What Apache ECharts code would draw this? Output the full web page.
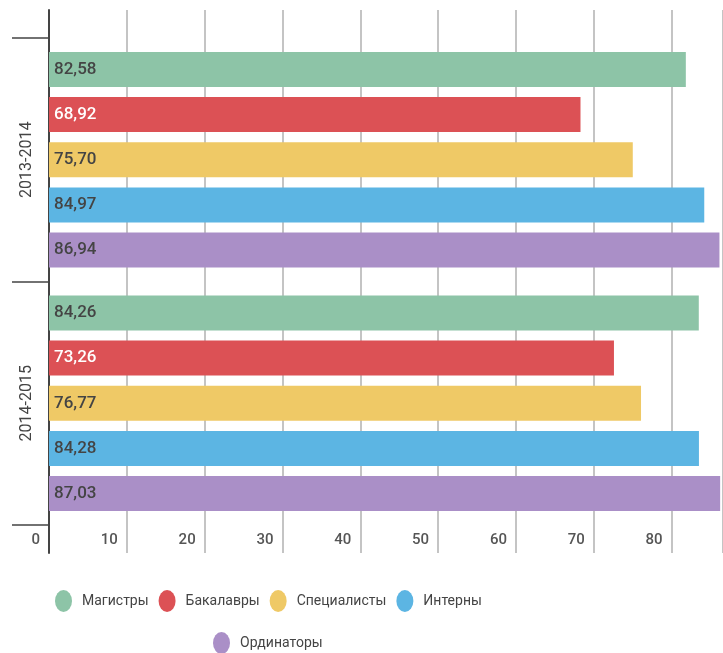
<!DOCTYPE html>
<html>
<head>
<meta charset="utf-8">
<script src="https://cdn.jsdelivr.net/npm/echarts@6/dist/echarts.min.js"></script>
<style>
  html, body { margin: 0; padding: 0; background: #fff; }
  #chart { width: 723px; height: 653px; }
</style>
</head>
<body>
<div id="chart"></div>
<script>
const years = ['2013-2014', '2014-2015'];
const seriesNames = ['Магистры', 'Бакалавры', 'Специалисты', 'Интерны', 'Ординаторы'];
const colors = ['#8dc4a7', '#dc5155', '#efc966', '#5cb5e3', '#aa8fc7'];
const labelColors = ['#444', '#fff', '#444', '#444', '#444'];

const magistry = [82.58, 84.26];
const bakalavry = [68.92, 73.26];
const specialisty = [75.70, 76.77];
const interny = [84.97, 84.28];
const ordinatory = [86.94, 87.03];
const values = [magistry, bakalavry, specialisty, interny, ordinatory];

const font = 'Roboto';
// the legend markers in the picture are slightly taller than wide
const ellipse = 'path://M8.5,0 A8.5,11 0 1,1 8.5,22 A8.5,11 0 1,1 8.5,0 Z';

const chart = echarts.init(document.getElementById('chart'));

const series = seriesNames.map((name, i) => ({
  name: name,
  type: 'bar',
  xAxisIndex: 1,
  yAxisIndex: 1,
  barWidth: 35,
  barGap: '29%',
  itemStyle: { color: colors[i] },
  label: {
    show: true,
    position: 'insideLeft',
    distance: 5,
    fontFamily: font,
    fontSize: 17,
    fontWeight: 500,
    color: labelColors[i],
    formatter: p => p.value.toFixed(2).replace('.', ',')
  },
  data: values[i]
}));

const legendBase = {
  icon: ellipse,
  padding: 0,
  itemWidth: 17,
  itemHeight: 22,
  itemGap: 10,
  textStyle: { fontFamily: font, fontSize: 14, color: '#444', padding: [0, 0, 0, 5] }
};

const option = {
  backgroundColor: '#fff',
  animation: false,
  grid: [
    { left: 49, right: 0, top: 10, bottom: 100 },
    { left: 49, right: 0, top: 38, bottom: 128 }
  ],
  xAxis: [
    {
      gridIndex: 0,
      type: 'value',
      min: 0,
      max: 86.6,
      interval: 10,
      axisLine: { show: false },
      axisTick: { show: false },
      splitLine: { show: true, lineStyle: { color: '#c4c4c4', width: 2 } },
      axisLabel: {
        inside: true,
        margin: 5,
        showMaxLabel: false,
        align: 'right',
        padding: [0, 9, 0, 0],
        fontFamily: font,
        fontSize: 15,
        fontWeight: 500,
        color: '#555'
      }
    },
    {
      gridIndex: 1,
      type: 'value',
      min: 0,
      max: 87.4,
      show: false
    }
  ],
  yAxis: [
    {
      gridIndex: 0,
      type: 'value',
      axisLine: { show: true, lineStyle: { color: '#444', width: 2 } },
      axisTick: { show: false },
      axisLabel: { show: false },
      splitLine: { show: false }
    },
    {
      gridIndex: 1,
      type: 'category',
      inverse: true,
      data: years,
      axisLine: { show: false },
      axisTick: { show: true, length: 37, lineStyle: { color: '#444', width: 1.5 } },
      axisLabel: {
        rotate: 90,
        margin: 14,
        fontFamily: font,
        fontSize: 16,
        color: '#444'
      }
    }
  ],
  legend: [
    Object.assign({}, legendBase, { data: seriesNames.slice(0, 4), left: 55, top: 590 }),
    Object.assign({}, legendBase, { data: seriesNames.slice(4), left: 213, top: 632 })
  ],
  series: series
};

chart.setOption(option);
</script>
</body>
</html>
